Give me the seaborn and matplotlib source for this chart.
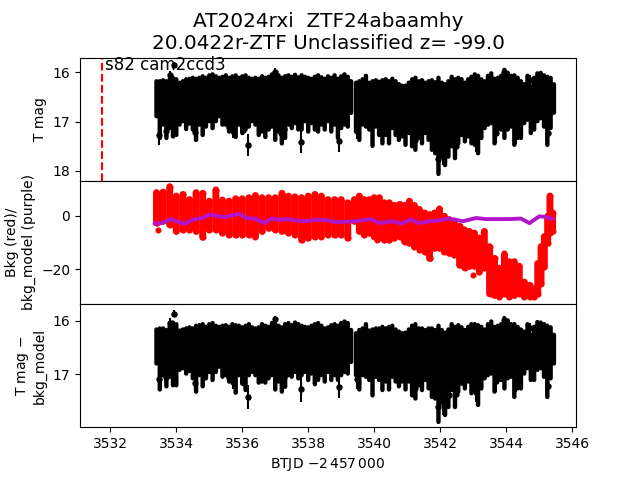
import pandas as pd
from matplotlib import pyplot as plt
import seaborn as sns

# time columns of the light curve block
t_block = [3533.40, 3533.50, 3533.60, 3533.70, 3533.80, 3533.90, 3534.00, 3534.10, 3534.20, 3534.30,
           3534.40, 3534.50, 3534.60, 3534.70, 3534.80, 3534.90, 3535.00, 3535.10, 3535.20, 3535.30,
           3535.40, 3535.50, 3535.60, 3535.70, 3535.80, 3535.90, 3536.00, 3536.10, 3536.20, 3536.30,
           3536.40, 3536.50, 3536.60, 3536.70, 3536.80, 3536.90, 3537.00, 3537.10, 3537.20, 3537.30,
           3537.40, 3537.50, 3537.60, 3537.70, 3537.80, 3537.90, 3538.00, 3538.10, 3538.20, 3538.30,
           3538.40, 3538.50, 3538.60, 3538.70, 3538.80, 3538.90, 3539.00, 3539.10, 3539.20, 3539.30,
           3539.45, 3539.55, 3539.65, 3539.75, 3539.85, 3539.95, 3540.05, 3540.15, 3540.25, 3540.35,
           3540.45, 3540.55, 3540.65, 3540.75, 3540.85, 3540.95, 3541.05, 3541.15, 3541.25, 3541.35,
           3541.45, 3541.55, 3541.65, 3541.75, 3541.85, 3541.95, 3542.05, 3542.15, 3542.25, 3542.35,
           3542.45, 3542.55, 3542.65, 3542.75, 3542.85, 3542.95, 3543.05, 3543.15, 3543.25, 3543.35,
           3543.45, 3543.55, 3543.65, 3543.75, 3543.85, 3543.95, 3544.05, 3544.15, 3544.25, 3544.35,
           3544.45, 3544.55, 3544.65, 3544.75, 3544.85, 3544.95, 3545.05, 3545.15, 3545.25, 3545.35,
           3545.45]

# top panel, bright and faint edge of each column
tmag_hi = [16.18, 16.18, 16.16, 16.18, 16.14, 16.11, 16.14, 16.21, 16.18, 16.14,
           16.13, 16.11, 16.13, 16.11, 16.08, 16.11, 16.06, 16.04, 16.08, 16.11,
           16.09, 16.06, 16.11, 16.08, 16.06, 16.11, 16.08, 16.06, 16.11, 16.13,
           16.11, 16.13, 16.08, 16.11, 16.09, 16.04, 16.08, 16.06, 16.11, 16.08,
           16.06, 16.09, 16.05, 16.10, 16.06, 16.09, 16.11, 16.13, 16.09, 16.06,
           16.10, 16.13, 16.08, 16.11, 16.06, 16.13, 16.08, 16.04, 16.09, 16.18,
           16.21, 16.18, 16.14, 16.07, 16.21, 16.18, 16.16, 16.19, 16.16, 16.14,
           16.18, 16.13, 16.18, 16.24, 16.27, 16.27, 16.21, 16.14, 16.11, 16.18,
           16.16, 16.21, 16.18, 16.16, 16.20, 16.11, 16.21, 16.24, 16.18, 16.09,
           16.14, 16.11, 16.14, 16.21, 16.14, 16.09, 16.04, 16.07, 16.14, 16.18,
           16.07, 16.02, 16.13, 16.11, 16.07, 15.95, 16.01, 16.07, 16.06, 16.11,
           16.18, 16.24, 16.07, 16.28, 16.11, 16.02, 16.01, 16.06, 16.09, 16.11,
           16.24]
tmag_lo = [16.89, 17.33, 17.06, 17.33, 17.13, 17.30, 17.27, 17.06, 16.99, 17.15,
           17.04, 17.16, 17.37, 17.06, 17.27, 17.10, 16.99, 17.13, 16.99, 16.89,
           17.06, 17.06, 17.20, 17.13, 17.31, 17.06, 17.23, 17.16, 17.10, 16.99,
           17.06, 17.27, 17.20, 17.31, 17.16, 17.10, 17.37, 17.20, 17.44, 17.33,
           17.06, 17.13, 17.03, 17.16, 17.16, 16.99, 17.20, 17.03, 17.16, 17.20,
           17.06, 17.16, 16.99, 17.20, 17.06, 17.33, 17.13, 17.06, 17.10, 16.82,
           17.20, 17.37, 17.06, 17.10, 17.16, 17.49, 17.10, 17.27, 17.44, 17.27,
           17.44, 17.13, 17.27, 17.37, 17.30, 17.47, 17.23, 17.50, 17.57, 17.33,
           17.44, 17.23, 17.37, 17.57, 17.64, 18.06, 17.71, 17.88, 17.71, 17.50,
           17.74, 17.44, 17.27, 17.40, 17.30, 17.44, 17.47, 17.64, 17.33, 17.13,
           17.06, 17.03, 17.44, 17.16, 17.16, 17.33, 17.16, 17.10, 17.47, 17.33,
           17.33, 17.03, 16.96, 17.23, 17.16, 16.99, 16.93, 17.10, 17.47, 17.13,
           16.82]

# isolated points of the top panel
t_out = [3533.49, 3533.68, 3533.82, 3533.93, 3534.56, 3535.61, 3535.72, 3536.02, 3536.17, 3536.99,
         3537.18, 3537.28, 3537.78, 3538.93, 3539.47, 3541.25, 3541.93, 3542.10, 3542.26, 3542.48,
         3543.09, 3543.68, 3543.95, 3544.30, 3544.71, 3545.26]
tmag_out = [17.27, 17.18, 16.06, 15.85, 17.20, 17.10, 17.18, 17.16, 17.48, 15.99,
            17.23, 17.15, 17.41, 17.39, 17.18, 17.37, 17.76, 17.59, 17.46, 17.50,
            17.42, 17.23, 15.99, 17.23, 16.16, 17.23]
terr_out = [0.20, 0.15, 0.08, 0.06, 0.19, 0.12, 0.15, 0.12, 0.22, 0.07,
            0.20, 0.12, 0.22, 0.22, 0.18, 0.20, 0.31, 0.29, 0.24, 0.26,
            0.20, 0.20, 0.08, 0.22, 0.10, 0.20]

# bottom panel, same columns
cor_hi = [16.16, 16.14, 16.14, 16.17, 16.09, 16.03, 16.06, 16.18, 16.16, 16.14,
          16.12, 16.14, 16.09, 16.08, 16.06, 16.11, 16.06, 16.04, 16.09, 16.11,
          16.09, 16.08, 16.11, 16.06, 16.08, 16.09, 16.12, 16.09, 16.06, 16.12,
          16.14, 16.12, 16.06, 16.09, 16.11, 16.04, 16.06, 16.09, 16.12, 16.06,
          16.04, 16.08, 16.03, 16.06, 16.09, 16.11, 16.12, 16.09, 16.06, 16.04,
          16.09, 16.14, 16.12, 16.08, 16.06, 16.09, 16.04, 16.01, 16.04, 16.17,
          16.23, 16.17, 16.14, 16.06, 16.18, 16.16, 16.14, 16.14, 16.11, 16.14,
          16.11, 16.09, 16.16, 16.20, 16.23, 16.22, 16.16, 16.09, 16.06, 16.14,
          16.14, 16.17, 16.14, 16.14, 16.17, 16.09, 16.17, 16.22, 16.16, 16.06,
          16.11, 16.08, 16.12, 16.17, 16.11, 16.06, 16.06, 16.08, 16.11, 16.16,
          16.06, 16.01, 16.11, 16.09, 16.06, 15.95, 15.99, 16.06, 16.06, 16.11,
          16.16, 16.20, 16.06, 16.26, 16.11, 16.02, 16.03, 16.06, 16.09, 16.12,
          16.26]
cor_lo = [16.80, 17.29, 17.02, 17.23, 17.05, 17.21, 17.21, 16.92, 16.89, 16.99,
          16.94, 17.08, 17.33, 17.02, 17.23, 17.08, 16.96, 17.11, 16.96, 16.86,
          17.05, 17.02, 17.14, 17.11, 17.35, 17.02, 17.18, 17.30, 17.02, 16.96,
          17.02, 17.16, 17.14, 17.16, 17.08, 17.02, 17.29, 17.14, 17.33, 17.24,
          17.02, 17.05, 16.96, 17.08, 17.02, 16.96, 17.11, 16.99, 17.19, 17.11,
          17.02, 17.14, 16.96, 17.11, 17.02, 17.11, 17.02, 16.96, 16.99, 16.77,
          17.02, 17.29, 17.02, 17.05, 17.11, 17.40, 17.05, 17.11, 17.30, 17.14,
          17.29, 17.05, 17.14, 17.23, 17.14, 17.29, 17.14, 17.40, 17.46, 17.21,
          17.30, 17.11, 17.27, 17.43, 17.46, 17.90, 17.55, 17.77, 17.62, 17.30,
          17.62, 17.33, 17.18, 17.27, 17.14, 17.36, 17.30, 17.58, 17.27, 17.08,
          17.02, 16.99, 17.33, 17.11, 17.11, 17.27, 17.08, 17.05, 17.43, 17.27,
          17.27, 16.99, 16.89, 17.11, 17.11, 16.92, 16.89, 17.05, 17.43, 17.08,
          16.80]

t_cor_out = [3533.49, 3533.68, 3533.82, 3533.93, 3534.56, 3535.61, 3535.72, 3536.02, 3536.17, 3536.99,
             3537.18, 3537.28, 3537.78, 3538.93, 3539.47, 3541.25, 3541.93, 3542.10, 3542.26, 3542.48,
             3543.09, 3543.68, 3543.95, 3544.30, 3544.71, 3545.26]
cor_out = [17.10, 17.05, 16.03, 15.86, 17.16, 17.05, 17.14, 17.11, 17.43, 15.97,
           17.11, 17.05, 17.29, 17.25, 17.10, 17.27, 17.62, 17.51, 17.40, 17.38,
           17.33, 17.13, 15.98, 17.14, 16.14, 17.22]
cor_err = [0.20, 0.15, 0.08, 0.06, 0.17, 0.12, 0.15, 0.12, 0.22, 0.07,
           0.18, 0.12, 0.23, 0.20, 0.18, 0.18, 0.30, 0.26, 0.23, 0.23,
           0.20, 0.20, 0.08, 0.20, 0.10, 0.20]

# background, top and bottom of the red band
t_bkg = [3533.4, 3533.6, 3533.8, 3534.0, 3534.2, 3534.4, 3534.6, 3534.8, 3535.0, 3535.2,
         3535.4, 3535.6, 3535.8, 3536.0, 3536.2, 3536.4, 3536.6, 3536.8, 3537.0, 3537.2,
         3537.4, 3537.6, 3537.8, 3538.0, 3538.2, 3538.4, 3538.6, 3538.8, 3539.0, 3539.2,
         3539.40, 3539.55, 3539.70, 3539.85, 3540.00, 3540.16, 3540.31, 3540.46, 3540.61, 3540.77,
         3540.92, 3541.07, 3541.22, 3541.37, 3541.53, 3541.68, 3541.83, 3541.98, 3542.13, 3542.28,
         3542.43, 3542.59, 3542.74, 3542.89, 3543.04, 3543.19, 3543.34, 3543.50, 3543.65, 3543.80,
         3543.95, 3544.10, 3544.25, 3544.40, 3544.55, 3544.71, 3544.86, 3544.96, 3545.06, 3545.16,
         3545.26, 3545.33, 3545.41]
bkg_hi = [8.6, 8.8, 10.8, 7.3, 7.9, 6.0, 8.6, 8.3, 5.4, 9.6,
          5.8, 5.4, 6.3, 6.3, 6.7, 7.5, 6.7, 6.7, 6.7, 8.3,
          7.3, 7.0, 6.7, 7.3, 7.9, 7.3, 6.0, 6.0, 6.0, 4.8,
          6.0, 7.3, 6.0, 6.0, 6.7, 6.7, 4.8, 4.8, 3.8, 4.2,
          3.8, 5.4, 3.8, 2.3, 1.0, 0.4, 1.0, 2.5, -0.25, -1.5,
          -2.1, -4.0, -5.3, -5.9, -6.5, -8.4, -5.9, -11.6, -16.0, -19.7,
          -14.7, -17.2, -17.2, -18.9, -24.8, -26.0, -27.3, -17.9, -11.6, -7.8,
          -0.25, 7.3, 1.0]
bkg_lo = [-2.8, -2.1, -3.4, -5.9, -5.3, -5.3, -5.9, -8.1, -5.3, -5.3,
          -6.5, -7.2, -7.2, -7.2, -7.2, -7.8, -5.9, -4.7, -5.3, -5.9,
          -6.5, -7.2, -9.1, -8.4, -7.8, -7.8, -7.2, -7.2, -7.2, -8.4,
          -2.1, -5.9, -7.2, -6.5, -7.8, -8.4, -9.1, -9.1, -8.4, -7.8,
          -9.7, -10.3, -11.6, -11.6, -13.5, -16.0, -12.2, -12.2, -13.5, -14.1,
          -14.7, -18.5, -19.4, -18.9, -18.9, -21.0, -19.4, -29.2, -29.8, -30.2,
          -29.2, -30.2, -29.8, -29.2, -30.2, -30.2, -30.2, -29.2, -25.4, -19.1,
          -10.3, -6.5, -5.9]
# a few stray red points
t_bkg_out = [3533.45, 3540.09, 3541.37, 3541.68, 3542.99, 3543.95]
bkg_out = [-5.5, -9.0, -13.0, -16.0, -22.0, -14.0]

# background model
t_model = [3533.34, 3533.54, 3533.70, 3533.85, 3534.00, 3534.25, 3534.50, 3534.80, 3535.00, 3535.20,
           3535.46, 3535.67, 3535.92, 3536.12, 3536.37, 3536.68, 3536.88, 3537.13, 3537.38, 3537.64,
           3537.94, 3538.24, 3538.60, 3538.80, 3539.15, 3539.45, 3539.55, 3539.91, 3540.16, 3540.57,
           3540.82, 3541.12, 3541.37, 3541.68, 3541.98, 3542.28, 3542.69, 3543.09, 3543.39, 3543.80,
           3544.10, 3544.45, 3544.71, 3545.01, 3545.21, 3545.41]
model = [-3.0, -2.8, -2.1, -1.3, -2.1, -3.1, -1.5, -0.9, 0.4, 0.0,
         -0.6, 0.1, 0.6, -0.9, -1.1, -2.8, -1.1, -1.5, -1.3, -1.8,
         -2.1, -1.5, -1.8, -2.4, -2.3, -2.1, -1.9, -1.3, -2.8, -2.1,
         -3.0, -1.5, -2.8, -2.1, -1.8, -1.1, -2.1, -0.9, -1.3, -1.3,
         -1.3, -1.1, -2.8, -0.25, -0.5, -1.3]

title = 'AT2024rxi  ZTF24abaamhy\n20.0422r-ZTF Unclassified z= -99.0'
sector_label = 's82 cam2ccd3'
sector_time = 3531.76

sns.set_style('ticks')
plt.rcParams['text.color'] = 'k'
plt.rcParams['axes.labelcolor'] = 'k'
plt.rcParams['xtick.color'] = 'k'
plt.rcParams['ytick.color'] = 'k'
plt.rcParams['axes.edgecolor'] = 'k'

df_t = pd.DataFrame({'t': t_block, 'hi': tmag_hi, 'lo': tmag_lo})
df_c = pd.DataFrame({'t': t_block, 'hi': cor_hi, 'lo': cor_lo})
df_b = pd.DataFrame({'t': t_bkg, 'hi': bkg_hi, 'lo': bkg_lo})
df_m = pd.DataFrame({'t': t_model, 'model': model})


def draw_lc(ax, df, t_pts, mag_pts, err_pts):
    mid = (df.hi + df.lo) / 2
    eb = ax.errorbar(df.t, mid, yerr=(df.lo - df.hi) / 2, fmt='none', ecolor='k', elinewidth=3.2)
    eb[2][0].set_capstyle('round')
    eb[2][0].set_snap(False)
    ax.errorbar(t_pts, mag_pts, yerr=err_pts, fmt='o', color='k', ms=3.6, elinewidth=1.5)


fig = plt.figure(figsize=(6.4, 4.8))
ax1 = plt.subplot(3, 1, 1)
ax2 = plt.subplot(3, 1, 2, sharex=ax1)
ax3 = plt.subplot(3, 1, 3, sharex=ax1)
plt.subplots_adjust(hspace=0)

draw_lc(ax1, df_t, t_out, tmag_out, terr_out)
ax1.axvline(sector_time, color='r', ls='--', lw=1.5)
ax1.text(sector_time + 0.07, 16.03, sector_label, fontsize=12, va='bottom', zorder=10)
ax1.set_ylim(18.2, 15.7)
ax1.set_yticks([16, 17, 18])
ax1.set_ylabel('T mag', fontsize=10)
ax1.set_title(title, fontsize=14.4, color='k')

red = ax2.vlines(df_b.t, df_b.lo, df_b.hi, color='r', lw=5, capstyle='round')
red.set_snap(False)
sns.scatterplot(x=df_b.t, y=df_b.hi, ax=ax2, color='r', s=19, linewidth=0)
sns.scatterplot(x=df_b.t, y=df_b.lo, ax=ax2, color='r', s=19, linewidth=0)
sns.scatterplot(x=t_bkg_out, y=bkg_out, ax=ax2, color='r', s=19, linewidth=0)
sns.lineplot(data=df_m, x='t', y='model', ax=ax2, color='#b015c8', lw=2.8, errorbar=None)
ax2.set_ylim(-33, 13)
ax2.set_yticks([0, -20])
ax2.set_ylabel('Bkg (red)/\nbkg_model (purple)', fontsize=10)

draw_lc(ax3, df_c, t_cor_out, cor_out, cor_err)
ax3.set_ylim(18.0, 15.68)
ax3.set_yticks([16, 17])
ax3.set_ylabel('T mag $-$\nbkg_model', fontsize=10)

ax3.set_xlim(3531.08, 3546.12)
ax3.set_xticks(range(3532, 3547, 2))
ax3.set_xlabel(r'BTJD $-2\,457\,000$', fontsize=10)

for ax in [ax1, ax2]:
    ax.tick_params(bottom=False, labelbottom=False)
    ax.set_xlabel('')
for ax in [ax1, ax2, ax3]:
    ax.tick_params(labelsize=10, length=3.5, width=0.8)
    for s in ax.spines.values():
        s.set_linewidth(0.8)

fig.savefig('out.png', dpi=100)
